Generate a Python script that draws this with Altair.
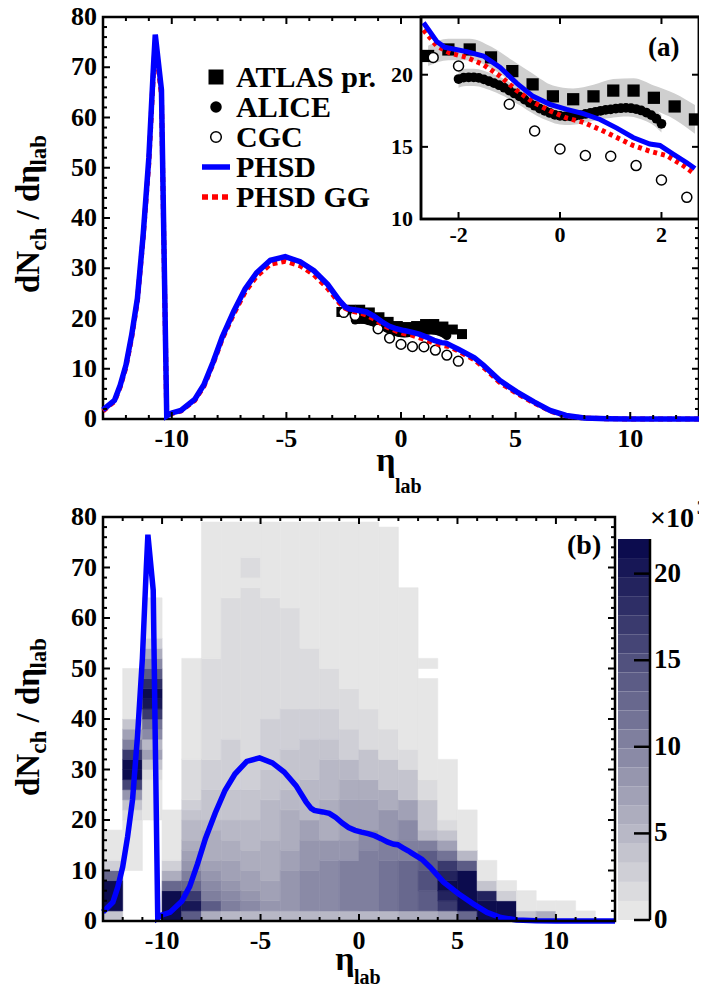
import altair as alt
import pandas as pd
import numpy as np

FONT = "Liberation Serif"

# ---------------- data ----------------
phsd_eta = [-13.0, -12.5, -12.25, -12.0, -11.75, -11.5, -11.25, -11.0, -10.8, -10.72,
            -10.45, -10.22, -10.0, -9.6, -9.0, -8.6, -8.2, -7.8, -7.3, -6.8,
            -6.3, -5.7, -5.05, -4.4, -3.8, -3.2, -2.69, -2.43, -2.27, -1.84,
            -1.51, -1.18, -0.85, -0.53, -0.2, 0.13, 0.46, 0.79, 1.12, 1.44,
            1.77, 1.97, 2.23, 2.5, 2.66, 3.2, 3.6, 4.3, 5.05, 5.8,
            6.5, 7.2, 8.0, 9.0, 10.0, 11.0, 12.0, 13.0]
phsd_val = [1.8, 3.7, 6.7, 10.7, 16.7, 24.0, 36.5, 52.0, 70.0, 76.5,
            65.5, 0.6, 1.2, 1.7, 3.9, 6.8, 11.3, 16.3, 21.4, 25.9,
            29.1, 31.6, 32.3, 31.3, 29.5, 26.8, 23.6, 22.3, 21.9, 21.6,
            21.3, 20.5, 19.4, 18.5, 17.95, 17.6, 17.3, 16.9, 16.3, 15.65,
            15.2, 15.1, 14.5, 13.9, 13.5, 12.2, 10.7, 7.7, 5.4, 3.4,
            1.7, 0.7, 0.2, 0.05, 0.0, 0.0, 0.0, 0.0]

gg_eta = [-13.0, -12.5, -12.25, -12.0, -11.75, -11.5, -11.25, -11.0, -10.8, -10.72,
          -10.45, -10.22, -10.0, -9.6, -9.0, -8.6, -8.2, -7.8, -7.3, -6.8,
          -6.3, -5.7, -5.05, -4.4, -3.8, -3.2, -2.69, -2.43, -2.17, -1.84,
          -1.51, -1.18, -0.85, -0.53, -0.2, 0.13, 0.46, 0.79, 1.12, 1.44,
          1.77, 2.1, 2.43, 2.66, 3.2, 3.6, 4.3, 5.05, 5.8, 6.5,
          7.2, 8.0, 9.0, 10.0, 11.0, 12.0, 13.0]
gg_val = [1.6, 3.5, 6.4, 10.3, 16.2, 23.5, 36.0, 51.0, 69.0, 75.0,
          64.5, 0.5, 1.1, 1.6, 3.7, 6.5, 11.0, 15.9, 20.9, 25.3,
          28.4, 30.8, 31.4, 30.5, 28.7, 26.0, 23.1, 22.0, 21.5, 21.2,
          20.7, 19.9, 18.9, 18.1, 17.5, 17.0, 16.7, 16.2, 15.65, 15.1,
          14.7, 14.4, 13.7, 13.1, 11.8, 10.3, 7.3, 5.1, 3.2, 1.6,
          0.6, 0.2, 0.05, 0.0, 0.0, 0.0, 0.0]

atlas_eta = [-2.6, -2.2, -1.78, -1.36, -0.94, -0.54, -0.14, 0.26, 0.66, 1.05, 1.45, 1.85, 2.26, 2.66]
atlas_val = [21.3, 21.75, 21.75, 21.2, 20.25, 19.33, 18.5, 18.3, 18.5, 18.9, 18.9, 18.4, 17.8, 16.9]
atlas_err = [0.7, 0.75, 0.75, 0.75, 0.75, 0.75, 0.75, 0.75, 0.8, 0.8, 0.85, 0.85, 0.9, 1.0]

alice_eta = [-2.0, -1.9, -1.8, -1.7, -1.6, -1.5, -1.4, -1.3, -1.2, -1.1, -1.0,
             -0.9, -0.8, -0.7, -0.6, -0.5, -0.4, -0.3, -0.2, -0.1, 0.0,
             0.1, 0.2, 0.3, 0.4, 0.5, 0.6, 0.7, 0.8, 0.9, 1.0,
             1.1, 1.2, 1.3, 1.4, 1.5, 1.6, 1.7, 1.8, 1.9, 2.0]
alice_val = [19.7, 19.8, 19.82, 19.82, 19.78, 19.68, 19.55, 19.42, 19.27, 19.1, 18.9,
             18.7, 18.5, 18.28, 18.05, 17.85, 17.65, 17.5, 17.35, 17.22, 17.15,
             17.12, 17.12, 17.15, 17.2, 17.28, 17.35, 17.43, 17.5, 17.56, 17.6,
             17.65, 17.68, 17.7, 17.68, 17.62, 17.52, 17.38, 17.2, 16.95, 16.6]
alice_err = [0.6] * 41

cgc_eta = [-2.5, -2.0, -1.0, -0.5, 0.0, 0.5, 1.0, 1.5, 2.0, 2.5]
cgc_val = [21.2, 20.6, 17.95, 16.1, 14.85, 14.4, 14.35, 13.7, 12.7, 11.5]

# 2D histogram: per eta column (left edge), list of (upper dN/deta edge, colour band); -1 = empty
heat_col_left = list(range(-13, 13))
heat_segments = [
    [(2, 3), (8, 19), (10, 11), (12, 2), (18, 0)],
    [(10, -1), (20, 0), (22, 1), (24, 3), (26, 7), (28, 14), (30, 19), (32, 19), (34, 15), (36, 9), (38, 6), (40, 3), (50, 0)],
    [(20, -1), (28, 0), (30, 1), (32, 3), (34, 6), (36, 4), (38, 8), (40, 10), (42, 15), (44, 18), (46, 19), (48, 16),
     (50, 12), (52, 8), (54, 5), (56, 2), (64, 0)],
    [(6, 19), (8, 11), (10, 5), (12, 2), (22, 0)],
    [(2, 12), (4, 18), (6, 15), (8, 11), (10, 9), (12, 7), (14, 6), (16, 5), (20, 4), (22, 3), (24, 2), (32, 1), (52, 0)],
    [(2, 5), (4, 12), (6, 9), (8, 8), (10, 7), (12, 6), (18, 5), (20, 4), (26, 3), (32, 2), (52, 1), (79, 0)],
    [(2, 4), (4, 9), (6, 8), (8, 7), (12, 6), (16, 5), (20, 4), (26, 3), (36, 2), (64, 1), (79, 0)],
    [(2, 4), (4, 8), (6, 7), (10, 6), (14, 5), (20, 4), (26, 3), (32, 2), (66, 1), (68, 0), (72, 1), (79, 0)],
    [(2, 4), (4, 7), (8, 6), (16, 5), (24, 4), (30, 3), (40, 2), (64, 1), (79, 0)],
    [(2, 4), (10, 7), (14, 6), (22, 5), (26, 4), (34, 3), (42, 2), (62, 1), (79, 0)],
    [(2, 4), (10, 8), (16, 7), (20, 6), (28, 4), (36, 3), (42, 2), (54, 1), (79, 0)],
    [(2, 4), (12, 8), (16, 7), (24, 5), (32, 4), (36, 3), (42, 2), (50, 1), (79, 0)],
    [(2, 4), (12, 9), (16, 7), (24, 6), (28, 5), (32, 4), (38, 2), (46, 1), (79, 0)],
    [(2, 4), (14, 9), (18, 8), (24, 6), (28, 5), (34, 3), (42, 1), (79, 0)],
    [(2, 4), (12, 10), (16, 9), (22, 7), (26, 5), (32, 3), (38, 1), (78, 0)],
    [(2, 5), (12, 11), (16, 9), (20, 8), (24, 6), (30, 3), (34, 1), (66, 0)],
    [(2, 5), (6, 12), (10, 13), (14, 12), (16, 9), (18, 4), (24, 3), (28, 1), (48, 0), (50, -1), (52, 0)],
    [(2, 6), (4, 15), (6, 17), (8, 19), (10, 17), (12, 15), (14, 10), (16, 6), (18, 3), (20, 1), (32, 0)],
    [(2, 11), (10, 19), (12, 12), (14, 4), (22, 0)],
    [(4, 19), (6, 17), (8, 3), (12, 0)],
    [(4, 19), (6, 2), (8, 0)],
    [(2, 3), (6, 0)],
    [(2, 5), (4, 0)],
    [(4, 0)],
    [(2, 0)],
    [],
]
cbar_levels = list(range(20))
cbar_band = 1.1          # 10^3 counts per colour band
cbar_ticks = [0, 5, 10, 15, 20]

xt_major = [-10, -5, 0, 5, 10]
xt_minor = [v for v in range(-12, 13) if v % 5 != 0]
yt_labels = [0, 10, 20, 30, 40, 50, 60, 70, 80]
yt_major = [10, 20, 30, 40, 50, 60, 70]
yt_minor = [v for v in range(2, 80, 2) if v % 10 != 0]
inset_xt = [-2, 0, 2]
inset_ylab = [10, 15, 20]
inset_yt = [15, 20]
legend_labels = ["ATLAS pr.", "ALICE", "CGC", "PHSD", "PHSD GG"]

# ---------------- layout (pixels inside the drawing area) ----------------
W, H = 596, 904
TOP_H = 402
BOT_TOP, BOT_W = 500, 512
IN_X0, IN_X1, IN_Y1 = 318, 596, 202
CB_X0, CB_X1, CB_Y0, CB_Y1 = 515, 547, 522, 903

BLUE = "#0000ff"
RED = "#ff0000"

c0 = np.array([230, 230, 230]); c1 = np.array([12, 12, 78])
palette = ["#%02x%02x%02x" % tuple(int(round(v)) for v in c0 + (c1 - c0) * i / 19) for i in range(20)]

sx_top = alt.Scale(domain=[-13, 13], range=[0, W], nice=False, zero=False)
sy_top = alt.Scale(domain=[0, 80], range=[TOP_H, 0], nice=False, zero=False)
sx_in = alt.Scale(domain=[-2.74, 2.74], range=[IN_X0, IN_X1], nice=False, zero=False)
sy_in = alt.Scale(domain=[10, 24], range=[IN_Y1, 0], nice=False, zero=False)
sx_bot = alt.Scale(domain=[-13, 13], range=[0, BOT_W], nice=False, zero=False)
sy_bot = alt.Scale(domain=[0, 80], range=[H, BOT_TOP], nice=False, zero=False)
sx_cb = alt.Scale(domain=[0, 1], range=[CB_X0, CB_X1], nice=False, zero=False)
sy_cb = alt.Scale(domain=[0, 22], range=[CB_Y1, CB_Y0], nice=False, zero=False)
col_scale = alt.Scale(domain=cbar_levels, range=palette)


def X(f, s):
    return alt.X(f, scale=s, axis=None)


def Y(f, s):
    return alt.Y(f, scale=s, axis=None)


def tick_layer(vals, side, sx, sy, xlim, ylim, L, sw=2.0):
    base = alt.Chart(pd.DataFrame({"v": vals}))
    if side in ("bottom", "top"):
        yv = ylim[0] if side == "bottom" else ylim[1]
        off = -L if side == "bottom" else L
        return base.mark_rule(color="black", strokeWidth=sw, y2Offset=off).encode(
            x=X("v:Q", sx), y=alt.YDatum(yv, scale=sy, axis=None), y2=alt.Y2Datum(yv))
    xv = xlim[0] if side == "left" else xlim[1]
    off = L if side == "left" else -L
    return base.mark_rule(color="black", strokeWidth=sw, x2Offset=off).encode(
        y=Y("v:Q", sy), x=alt.XDatum(xv, scale=sx, axis=None), x2=alt.X2Datum(xv))


def xlabels(vals, sx, sy, yv, dy, size):
    df = pd.DataFrame({"v": vals, "t": [str(v) for v in vals]})
    return alt.Chart(df).mark_text(font=FONT, fontWeight="bold", fontSize=size, color="black",
                                   align="center", baseline="alphabetic", dy=dy).encode(
        x=X("v:Q", sx), y=alt.YDatum(yv, scale=sy, axis=None), text="t:N")


def ylabels(vals, sx, sy, xv, dx, size, align="right"):
    df = pd.DataFrame({"v": vals, "t": [str(v) for v in vals]})
    return alt.Chart(df).mark_text(font=FONT, fontWeight="bold", fontSize=size, color="black",
                                   align=align, baseline="middle", dx=dx).encode(
        y=Y("v:Q", sy), x=alt.XDatum(xv, scale=sx, axis=None), text="t:N")


def frame(sx, sy, xlim, ylim, white=False):
    return alt.Chart(pd.DataFrame({"a": [0]})).mark_rect(
        fill="white", fillOpacity=1 if white else 0, stroke="black", strokeWidth=2.5).encode(
        x=alt.XDatum(xlim[0], scale=sx, axis=None), x2=alt.X2Datum(xlim[1]),
        y=alt.YDatum(ylim[0], scale=sy, axis=None), y2=alt.Y2Datum(ylim[1]))


def txt(s, x, y, size, angle=0, align="left"):
    return alt.Chart(pd.DataFrame({"t": [s]})).mark_text(
        font=FONT, fontWeight="bold", fontSize=size, angle=angle, align=align,
        baseline="alphabetic", color="black").encode(text="t:N", x=alt.value(x), y=alt.value(y))


def all_ticks(sx, sy, xlim, ylim, xmaj, xmin, ymaj, ymin):
    out = []
    for side in ("bottom", "top"):
        out.append(tick_layer(xmaj, side, sx, sy, xlim, ylim, 7))
        if xmin:
            out.append(tick_layer(xmin, side, sx, sy, xlim, ylim, 4))
    for side in ("left", "right"):
        out.append(tick_layer(ymaj, side, sx, sy, xlim, ylim, 7))
        if ymin:
            out.append(tick_layer(ymin, side, sx, sy, xlim, ylim, 4))
    return out


phsd = pd.DataFrame({"eta": phsd_eta, "val": phsd_val})
gg = pd.DataFrame({"eta": gg_eta, "val": gg_val})
atlas = pd.DataFrame({"eta": atlas_eta, "val": atlas_val, "err": atlas_err})
alice = pd.DataFrame({"eta": alice_eta, "val": alice_val, "err": alice_err})
cgc = pd.DataFrame({"eta": cgc_eta, "val": cgc_val})
one = pd.DataFrame({"a": [0]})

# ---------------- top panel ----------------
top_layers = [
    frame(sx_top, sy_top, (-13, 13), (0, 80)),
    alt.Chart(atlas).mark_point(shape="square", filled=True, color="black", size=100, opacity=1).encode(
        x=X("eta:Q", sx_top), y=Y("val:Q", sy_top)),
    alt.Chart(alice).mark_point(shape="circle", filled=True, color="black", size=80, opacity=1).encode(
        x=X("eta:Q", sx_top), y=Y("val:Q", sy_top)),
    alt.Chart(cgc).mark_point(shape="circle", filled=True, fill="white", stroke="black", strokeWidth=1.5,
                              size=95, opacity=1).encode(x=X("eta:Q", sx_top), y=Y("val:Q", sy_top)),
    alt.Chart(gg).mark_line(color=RED, strokeWidth=5, strokeDash=[5, 4]).encode(
        x=X("eta:Q", sx_top), y=Y("val:Q", sy_top)),
    alt.Chart(phsd).mark_line(color=BLUE, strokeWidth=5.5).encode(
        x=X("eta:Q", sx_top), y=Y("val:Q", sy_top)),
    xlabels(xt_major, sx_top, sy_top, 0, 28, 26),
    ylabels(yt_labels, sx_top, sy_top, -13, -6, 26),
] + all_ticks(sx_top, sy_top, (-13, 13), (0, 80), xt_major, xt_minor, yt_major, yt_minor)
top = alt.layer(*top_layers)

# legend (drawn)
legend = [
    alt.Chart(one).mark_point(shape="square", filled=True, color="black", size=225, opacity=1).encode(
        x=alt.value(113), y=alt.value(60)),
    alt.Chart(one).mark_point(shape="circle", filled=True, color="black", size=133, opacity=1).encode(
        x=alt.value(113), y=alt.value(90)),
    alt.Chart(one).mark_point(shape="circle", filled=True, fill="white", stroke="black", strokeWidth=1.5,
                              size=113, opacity=1).encode(x=alt.value(113), y=alt.value(120)),
    alt.Chart(one).mark_rule(color=BLUE, strokeWidth=5.5).encode(
        x=alt.value(99), x2=alt.value(127), y=alt.value(150)),
    alt.Chart(one).mark_rule(color=RED, strokeWidth=5.5, strokeDash=[6, 4]).encode(
        x=alt.value(99), x2=alt.value(127), y=alt.value(180)),
]
for i, lab in enumerate(legend_labels):
    legend.append(txt(lab, 133, 70 + 30 * i, 30))

# ---------------- inset ----------------
in_phsd = phsd[(phsd.eta >= -2.74) & (phsd.eta <= 2.74)]
in_gg = gg[(gg.eta >= -2.74) & (gg.eta <= 2.74)]
inset_layers = [
    frame(sx_in, sy_in, (-2.74, 2.74), (10, 24), white=True),
    alt.Chart(atlas).transform_calculate(lo="datum.val - datum.err", hi="datum.val + datum.err")
    .mark_area(color="#cfcfcf", interpolate="monotone").encode(
        x=X("eta:Q", sx_in), y=Y("lo:Q", sy_in), y2="hi:Q"),
    alt.Chart(alice).transform_calculate(lo="datum.val - datum.err", hi="datum.val + datum.err")
    .mark_area(color="#cfcfcf", interpolate="monotone").encode(
        x=X("eta:Q", sx_in), y=Y("lo:Q", sy_in), y2="hi:Q"),
    alt.Chart(atlas).mark_point(shape="square", filled=True, color="black", size=150, opacity=1).encode(
        x=X("eta:Q", sx_in), y=Y("val:Q", sy_in)),
    alt.Chart(alice).mark_point(shape="circle", filled=True, color="black", size=95, opacity=1).encode(
        x=X("eta:Q", sx_in), y=Y("val:Q", sy_in)),
    alt.Chart(cgc).mark_point(shape="circle", filled=True, fill="white", stroke="black", strokeWidth=1.5,
                              size=100, opacity=1).encode(x=X("eta:Q", sx_in), y=Y("val:Q", sy_in)),
    alt.Chart(in_gg).mark_line(color=RED, strokeWidth=5, strokeDash=[4, 4]).encode(
        x=X("eta:Q", sx_in), y=Y("val:Q", sy_in)),
    alt.Chart(in_phsd).mark_line(color=BLUE, strokeWidth=5).encode(
        x=X("eta:Q", sx_in), y=Y("val:Q", sy_in)),
    frame(sx_in, sy_in, (-2.74, 2.74), (10, 24)),
    xlabels(inset_xt, sx_in, sy_in, 10, 23, 22),
    ylabels(inset_ylab, sx_in, sy_in, -2.74, -8, 22),
] + all_ticks(sx_in, sy_in, (-2.74, 2.74), (10, 24), inset_xt, None, inset_yt, None)
inset = alt.layer(*inset_layers)

# ---------------- bottom panel ----------------
rows = []
for left, segs in zip(heat_col_left, heat_segments):
    prev = 0
    for topv, lvl in segs:
        if lvl >= 0:
            rows.append({"x1": left, "x2": left + 1, "y1": prev, "y2": topv, "level": lvl})
        prev = topv
heat = pd.DataFrame(rows)

bot_layers = [
    alt.Chart(heat).mark_rect(strokeWidth=0.6).encode(
        x=X("x1:Q", sx_bot), x2="x2:Q", y=Y("y1:Q", sy_bot), y2="y2:Q",
        color=alt.Color("level:O", scale=col_scale, legend=None),
        stroke=alt.Stroke("level:O", scale=col_scale, legend=None)),
    alt.Chart(phsd).mark_line(color=BLUE, strokeWidth=5.5).encode(
        x=X("eta:Q", sx_bot), y=Y("val:Q", sy_bot)),
    frame(sx_bot, sy_bot, (-13, 13), (0, 80)),
    xlabels(xt_major, sx_bot, sy_bot, 0, 28, 26),
    ylabels(yt_labels, sx_bot, sy_bot, -13, -6, 26),
] + all_ticks(sx_bot, sy_bot, (-13, 13), (0, 80), xt_major, xt_minor, yt_major, yt_minor)
bottom = alt.layer(*bot_layers)

# ---------------- colour bar ----------------
cb = pd.DataFrame({"level": cbar_levels})
cbar_layers = [
    alt.Chart(cb).transform_calculate(lo=f"datum.level * {cbar_band}", hi=f"(datum.level + 1) * {cbar_band}")
    .mark_rect().encode(
        x=alt.XDatum(0, scale=sx_cb, axis=None), x2=alt.X2Datum(1),
        y=Y("lo:Q", sy_cb), y2="hi:Q",
        color=alt.Color("level:O", scale=col_scale, legend=None)),
    alt.Chart(one).mark_rule(color="black", strokeWidth=2.5).encode(
        x=alt.XDatum(1, scale=sx_cb, axis=None), y=alt.YDatum(0, scale=sy_cb, axis=None), y2=alt.Y2Datum(22)),
    alt.Chart(pd.DataFrame({"v": cbar_ticks})).mark_rule(color="black", strokeWidth=2.5, x2Offset=-16).encode(
        y=Y("v:Q", sy_cb), x=alt.XDatum(1, scale=sx_cb, axis=None), x2=alt.X2Datum(1)),
    ylabels(cbar_ticks, sx_cb, sy_cb, 1, 4, 27, align="left"),
]
cbar = alt.layer(*cbar_layers)

# ---------------- titles & labels ----------------
def ytitle(xb, ys):
    pieces = [("dN", 33, 0, 0.0), ("ch", 23, 7, 42.2), ("/", 33, 0, 73.5), ("d\u03b7", 33, 0, 90.9),
              ("lab", 23, 7, 127.4)]
    return [txt(s, xb + dx, ys - along, fs, angle=270) for s, fs, dx, along in pieces]


texts = []
texts += ytitle(-64, 276)
texts += ytitle(-64, 779)
texts += [txt("\u03b7", 283, 454, 34, align="center"), txt("lab", 292, 476, 20)]
texts += [txt("\u03b7", 242, 953, 34, align="center"), txt("lab", 251, 967, 20)]
texts += [txt("(a)", 545, 39, 27), txt("(b)", 464, 537, 28)]
texts += [txt("\u00d710", 547, 510, 28), txt("3", 594, 497, 18)]

chart = alt.layer(top, *legend, inset, bottom, cbar, *texts).resolve_scale(
    x="independent", y="independent").properties(
    width=W, height=H,
    autosize=alt.AutoSizeParams(type="none"),
    padding={"left": 95, "top": 9, "right": 0, "bottom": 66},
).configure_view(stroke=None)

chart.save("out.html", embed_options={"renderer": "svg", "actions": False})
